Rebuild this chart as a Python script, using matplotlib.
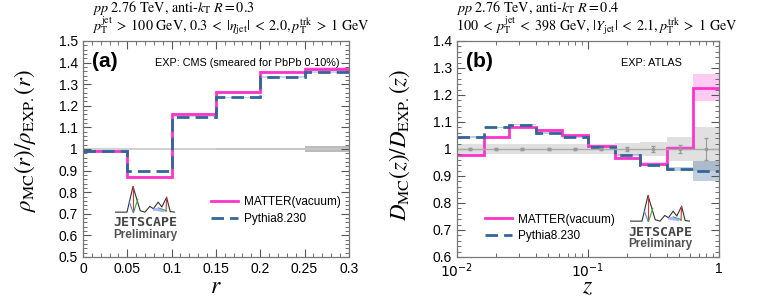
import numpy as np
import matplotlib
matplotlib.use("Agg")
import matplotlib.pyplot as plt
from matplotlib.ticker import MultipleLocator, LogLocator, NullFormatter

plt.rcParams['font.family'] = ['Liberation Sans', 'DejaVu Sans']
plt.rcParams['mathtext.fontset'] = 'stix'

PINK = '#ff33cc'
BLUE = '#336699'
GREY = '#999999'

# ---- panel (a): jet shape ratio, CMS ----
r_edges = [0.0, 0.05, 0.1, 0.15, 0.2, 0.25, 0.3]
rho_matter = [0.992, 0.871, 1.163, 1.266, 1.355, 1.372]
rho_pythia = [0.992, 0.898, 1.150, 1.239, 1.332, 1.358]
rho_band_mc = [0.002, 0.002, 0.002, 0.003, 0.004, 0.008]
rho_exp = [1.0, 1.0, 1.0, 1.0, 1.0, 1.0]
rho_exp_err = [0.001, 0.001, 0.001, 0.004, 0.004, 0.013]

# ---- panel (b): fragmentation function ratio, ATLAS ----
z_edges = [0.01, 0.016, 0.025, 0.04, 0.063, 0.1, 0.16, 0.25, 0.4, 0.63, 1.0]
dz_matter = [0.977, 1.043, 1.080, 1.070, 1.050, 1.010, 0.967, 0.945, 1.003, 1.227]
dz_matter_err = [0.003, 0.003, 0.003, 0.003, 0.003, 0.003, 0.004, 0.005, 0.008, 0.049]
dz_pythia = [1.045, 1.080, 1.090, 1.059, 1.043, 1.007, 0.978, 0.941, 0.926, 0.919]
dz_pythia_err = [0.003, 0.003, 0.003, 0.003, 0.003, 0.003, 0.004, 0.005, 0.008, 0.038]
dz_exp = [1.0] * 10
dz_exp_syst = [0.017, 0.017, 0.017, 0.017, 0.017, 0.018, 0.021, 0.026, 0.043, 0.083]
dz_exp_stat = [0.004, 0.004, 0.004, 0.004, 0.004, 0.005, 0.007, 0.010, 0.015, 0.040]

# logo outline (decoration only)
logo_x = [0.0, 0.2, 0.3, 0.42, 0.5, 0.58, 0.64, 0.72, 0.78, 0.86, 0.92, 1.0]
logo_y = [0.1, 0.1, 1.0, 0.15, 0.1, 0.3, 0.22, 0.45, 0.28, 0.62, 0.12, 0.1]


def draw_logo(fig, px, py, w=60, h=30):
    W, H = fig.get_size_inches() * fig.dpi
    lax = fig.add_axes([px / W, 1 - (py + h) / H, w / W, h / H])
    lax.plot(logo_x, logo_y, color='#333333', lw=0.8)
    lax.plot([0.3, 0.3], [1.0, 0.1], color='#e03030', lw=0.8)
    lax.plot([0.38, 0.31], [0.55, 0.1], color='#30b030', lw=0.8)
    lax.plot([0.24, 0.3], [0.45, 0.1], color='#5080ff', lw=0.8)
    lax.plot([0.86, 0.85], [0.62, 0.12], color='#e03030', lw=0.8)
    lax.plot([0.72, 0.86], [0.25, 0.15], color='#30b030', lw=0.8)
    lax.plot([0.66, 0.8], [0.2, 0.15], color='#8090ff', lw=2.0, alpha=0.7)
    lax.set_xlim(0, 1)
    lax.set_ylim(0, 1.05)
    lax.axis('off')
    cx = (px + w / 2) / W
    fig.text(cx, 1 - (py + h + 8) / H, 'JETSCAPE', ha='center', va='center',
             fontsize=9.5, fontweight='bold', color='#444444',
             family=['DejaVu Sans Mono', 'DejaVu Sans'])
    fig.text(cx, 1 - (py + h + 20) / H, 'Preliminary', ha='center', va='center',
             fontsize=8.5, fontweight='bold', color='#555555')


def style_axes(ax):
    ax.tick_params(which='both', direction='in', top=True, right=True,
                   labelsize=10, color='#555555')
    ax.tick_params(which='major', length=6)
    ax.tick_params(which='minor', length=3)
    for s in ax.spines.values():
        s.set_color('#777777')
        s.set_linewidth(0.9)


fig = plt.figure(figsize=(7.64, 2.99), dpi=100)
ax1 = fig.add_axes([0.1086, 0.1405, 0.348, 0.7225])
ax2 = fig.add_axes([0.598, 0.1405, 0.343, 0.7225])

# panel (a)
e = np.array(rho_exp)
ee = np.array(rho_exp_err)
ax1.stairs(e + ee, r_edges, baseline=e - ee, fill=True, color='#bbbbbb', lw=0)
ax1.stairs(e, r_edges, baseline=None, color='#c8c8c8', lw=1.2)
m = np.array(rho_matter)
p = np.array(rho_pythia)
b = np.array(rho_band_mc)
ax1.stairs(m + b, r_edges, baseline=m - b, fill=True, color=PINK, alpha=0.25, lw=0)
ax1.stairs(p + b, r_edges, baseline=p - b, fill=True, color=BLUE, alpha=0.25, lw=0)
ax1.stairs(m, r_edges, baseline=None, color=PINK, lw=2.0, label='MATTER(vacuum)')
ax1.stairs(p, r_edges, baseline=None, color=BLUE, lw=2.0, ls=(0, (4.5, 2.2)), label='Pythia8.230')
ax1.set_xlim(0, 0.3)
ax1.set_ylim(0.5, 1.5)
ax1.xaxis.set_minor_locator(MultipleLocator(0.01))
ax1.yaxis.set_minor_locator(MultipleLocator(0.02))
ax1.set_xticks([0, 0.05, 0.1, 0.15, 0.2, 0.25, 0.3],
               labels=['0', '0.05', '0.1', '0.15', '0.2', '0.25', '0.3'])
ax1.set_yticks(np.round(np.arange(0.5, 1.51, 0.1), 1),
               labels=['0.5', '0.6', '0.7', '0.8', '0.9', '1', '1.1', '1.2', '1.3', '1.4', '1.5'])
style_axes(ax1)
ax1.set_xlabel(r'$r$', fontsize=17)
ax1.xaxis.set_label_coords(0.5, -0.09)
ax1.set_ylabel(r'$\rho_{\rm MC}(r)/\rho_{\rm EXP.}(r)$', fontsize=16.5)
ax1.yaxis.set_label_coords(-0.17, 0.54)
ax1.text(0.035, 0.905, '(a)', transform=ax1.transAxes, fontsize=15, fontweight='bold', va='center')
ax1.text(0.965, 0.9, 'EXP: CMS (smeared for PbPb 0-10%)', transform=ax1.transAxes,
         fontsize=7.8, ha='right', va='center')
ax1.legend(loc='upper left', bbox_to_anchor=(0.44, 0.33), frameon=False, fontsize=8.5,
           handlelength=2.3, handletextpad=0.5, labelspacing=0.4)
fig.text(92 / 764, 1 - 12 / 299, r'$pp$ 2.76 TeV, anti-$k_{\rm T}$ $R = 0.3$',
         fontsize=10.2, va='baseline', family='STIXGeneral')
fig.text(92 / 764, 1 - 30 / 299,
         r'$p_{\rm T}^{\rm jet} \;>\; 100$ GeV, $0.3 \;<\; |\eta_{\rm jet}| \;<\; 2.0, p_{\rm T}^{\rm trk} \;>\; 1$ GeV',
         fontsize=10.2, va='baseline', family='STIXGeneral')

# panel (b)
e = np.array(dz_exp)
ax2.stairs(e + np.array(dz_exp_syst), z_edges, baseline=e - np.array(dz_exp_syst),
           fill=True, color='#d9d9d9', alpha=0.8, lw=0)
ax2.axhline(1.0, color='#aaaaaa', lw=1.0)
zc = np.sqrt(np.array(z_edges[:-1]) * np.array(z_edges[1:]))
ax2.errorbar(zc, dz_exp, yerr=dz_exp_stat, fmt='s', ms=2, color=GREY, lw=0.8, capsize=1.5)
m = np.array(dz_matter)
mb = np.array(dz_matter_err)
p = np.array(dz_pythia)
pb = np.array(dz_pythia_err)
ax2.stairs(m + mb, z_edges, baseline=m - mb, fill=True, color=PINK, alpha=0.25, lw=0)
ax2.stairs(p + pb, z_edges, baseline=p - pb, fill=True, color=BLUE, alpha=0.3, lw=0)
ax2.stairs(m, z_edges, baseline=None, color=PINK, lw=2.0, label='MATTER(vacuum)')
ax2.stairs(p, z_edges, baseline=None, color=BLUE, lw=2.0, ls=(0, (4.5, 2.2)), label='Pythia8.230')
ax2.set_xscale('log')
ax2.set_xlim(0.01, 1.0)
ax2.set_ylim(0.6, 1.4)
ax2.xaxis.set_minor_locator(LogLocator(base=10, subs=np.arange(2, 10)))
ax2.xaxis.set_minor_formatter(NullFormatter())
ax2.set_xticks([0.01, 0.1, 1.0])
ax2.set_xticklabels([r'$10^{-2}$', r'$10^{-1}$', '1'])
for t in ax2.get_xticklabels():
    t.set_math_fontfamily('dejavusans')
ax2.yaxis.set_minor_locator(MultipleLocator(0.02))
ax2.set_yticks(np.round(np.arange(0.6, 1.41, 0.1), 1),
               labels=['0.6', '0.7', '0.8', '0.9', '1', '1.1', '1.2', '1.3', '1.4'])
style_axes(ax2)
ax2.set_xlabel(r'$z$', fontsize=17)
ax2.xaxis.set_label_coords(0.5, -0.09)
ax2.set_ylabel(r'$D_{\rm MC}(z)/D_{\rm EXP.}(z)$', fontsize=16.5)
ax2.yaxis.set_label_coords(-0.17, 0.52)
ax2.text(0.035, 0.905, '(b)', transform=ax2.transAxes, fontsize=15, fontweight='bold', va='center')
ax2.text(0.86, 0.9, 'EXP: ATLAS', transform=ax2.transAxes, fontsize=7.8, ha='right', va='center')
ax2.legend(loc='upper left', bbox_to_anchor=(0.065, 0.25), frameon=False, fontsize=8.5,
           handlelength=2.3, handletextpad=0.5, labelspacing=0.4)
fig.text(456 / 764, 1 - 12 / 299, r'$pp$ 2.76 TeV, anti-$k_{\rm T}$ $R = 0.4$',
         fontsize=10.2, va='baseline', family='STIXGeneral')
fig.text(456 / 764, 1 - 30 / 299,
         r'$100 \;<\; p_{\rm T}^{\rm jet} \;<\; 398$ GeV, $|Y_{\rm jet}| \;<\; 2.1, p_{\rm T}^{\rm trk} \;>\; 1$ GeV',
         fontsize=10.2, va='baseline', family='STIXGeneral')

draw_logo(fig, 115, 185)
draw_logo(fig, 630, 194)

fig.savefig('out.png', dpi=100)
